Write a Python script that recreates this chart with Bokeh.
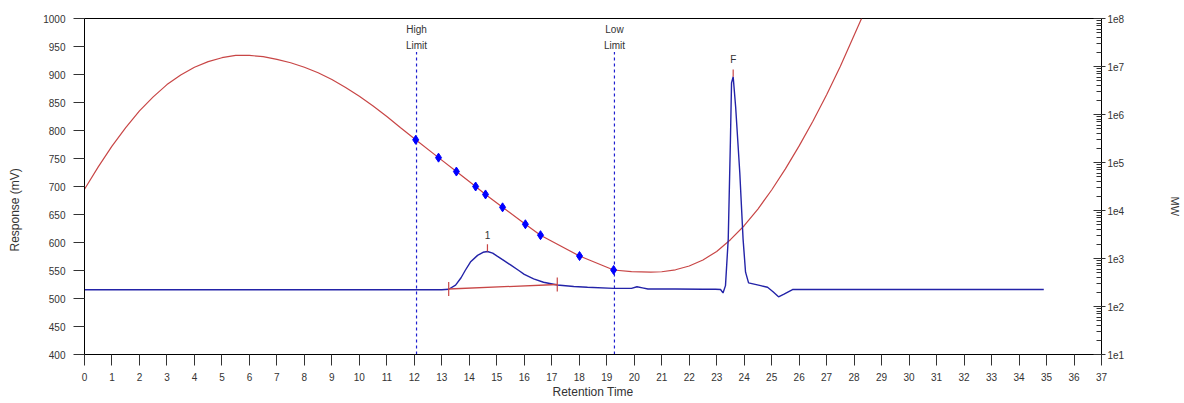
import math
from bokeh.plotting import figure
from bokeh.models import (Range1d, LogScale, LogAxis, FixedTicker, SingleIntervalTicker,
                          CustomJSTickFormatter)
from bokeh.core.properties import value
from bokeh.embed import file_html
from bokeh.resources import INLINE

# ---------------- data ----------------
# chromatogram trace (retention time in min, response in mV)
trace_t = [0.0, 12.0, 13.0, 13.25, 13.5, 13.7, 13.85, 14.04, 14.3, 14.5, 14.66, 14.85, 15.0,
           15.25, 15.5, 15.8, 16.0, 16.34, 16.7, 17.2, 17.8, 18.3, 19.25, 19.9, 20.1, 20.3,
           20.5, 21.5, 22.5, 22.96, 23.14, 23.23, 23.32, 23.42, 23.5, 23.54, 23.6, 23.69,
           23.84, 23.96, 24.05, 24.16, 24.6, 24.85, 25.05, 25.25, 25.45, 25.76, 30.0, 34.9]
trace_mv = [515.5, 515.5, 515.5, 516.5, 524, 537, 550, 565, 577, 582.5, 584, 581, 576,
            568, 560, 550, 543, 535, 529, 524, 521.5, 520, 518, 518, 521, 519,
            517, 517, 516.5, 516.5, 516, 510, 523, 606, 783, 885, 896, 842,
            725, 606, 547, 528, 523, 520, 512, 503, 508, 516, 516, 516]

# calibration curve (retention time, molecular weight)
cal_t = [0.0, 0.5, 1.0, 1.5, 2.0, 2.5, 3.0, 3.5, 4.0, 4.5, 5.0, 5.5, 6.0, 6.5, 7.0, 7.5,
         8.0, 8.5, 9.0, 9.5, 10.0, 10.5, 11.0, 11.5, 12.05, 12.88, 13.53, 14.23, 14.59,
         15.21, 16.04, 16.59, 18.01, 19.25, 19.9, 20.6, 21.0, 21.5, 22.0, 22.5, 23.0, 23.5,
         24.0, 24.5, 25.0, 25.5, 26.0, 26.5, 27.0, 27.5, 28.0, 28.27]
cal_mw = [2.765e4, 8.10e4, 2.19e5, 5.31e5, 1.19e6, 2.33e6, 4.20e6, 6.63e6, 9.66e6, 1.264e7,
          1.525e7, 1.70e7, 1.70e7, 1.609e7, 1.407e7, 1.198e7, 9.66e6, 7.39e6, 5.35e6,
          3.67e6, 2.39e6, 1.51e6, 9.09e5, 5.31e5, 2.97e5, 1.262e5, 6.48e4, 3.16e4, 2.16e4,
          1.164e4, 5.17e3, 3.06e3, 1.125e3, 576, 533, 519, 530, 582, 697, 932, 1.402e3,
          2.465e3, 4.82e3, 1.073e4, 2.674e4, 7.37e4, 2.217e5, 7.23e5, 2.573e6, 1.013e7,
          4.47e7, 1.0e8]

# calibration standards
std_t = [12.05, 12.88, 13.53, 14.23, 14.59, 15.21, 16.04, 16.59, 18.01, 19.25]
std_mw = [2.97e5, 1.262e5, 6.48e4, 3.16e4, 2.16e4, 1.164e4, 5.17e3, 3.06e3, 1.125e3, 576]

# integration limits
limit_t = [12.08, 19.28]
limit_top = 940
limit_word1 = ["High", "Low"]
limit_word2 = ["Limit", "Limit"]

# peak 1 baseline
base_t = [13.25, 17.2]
base_mv = [517, 525]

# peak apexes
apex_t = [14.66, 23.6]
apex_mv = [584, 896]
apex_name = ["1", "F"]

# axis ticks
y_ticks = list(range(400, 1001, 50))
mw_major = [1e1, 1e2, 1e3, 1e4, 1e5, 1e6, 1e7, 1e8]

# ---------------- figure ----------------
FONT = "Liberation Sans"
TXT = "#333333"
BLUE = "#2323a8"
RED = "#c84646"
NB = "\u00a0"

W, H = 1184, 401
p = figure(width=W, height=H, output_backend="svg", toolbar_location=None,
           x_range=Range1d(0, 37), y_range=Range1d(400, 1000),
           min_border_left=84, min_border_right=W - 1101, min_border_top=18,
           min_border_bottom=H - 356)
p.extra_y_ranges = {"mw": Range1d(1e1, 1e8)}
p.extra_y_scales = {"mw": LogScale()}
p.xgrid.visible = False
p.ygrid.visible = False
p.outline_line_color = "black"
p.background_fill_color = "white"
p.border_fill_color = "white"

# left axis
ya = p.yaxis[0]
ya.ticker = FixedTicker(ticks=y_ticks)
ya.major_tick_out = 11
ya.major_tick_in = 0
ya.minor_tick_out = 0
ya.minor_tick_in = 0
ya.major_label_standoff = 8
ya.axis_line_color = "black"
ya.major_tick_line_color = "#333333"
ya.major_label_text_font = FONT
ya.major_label_text_font_size = "10px"
ya.major_label_text_color = TXT
ya.axis_label = "Response (mV)" + NB * 14
ya.axis_label_standoff = 18
ya.axis_label_text_font = FONT
ya.axis_label_text_font_size = "12px"
ya.axis_label_text_font_style = "normal"
ya.axis_label_text_color = TXT

# bottom axis
xa = p.xaxis[0]
xa.ticker = SingleIntervalTicker(interval=1)
xa.major_tick_out = 11
xa.major_tick_in = 0
xa.minor_tick_out = 0
xa.minor_tick_in = 0
xa.major_label_standoff = 7
xa.axis_line_color = "black"
xa.major_tick_line_color = "#333333"
xa.major_label_text_font = FONT
xa.major_label_text_font_size = "10px"
xa.major_label_text_color = TXT
xa.axis_label = "Retention Time"
xa.axis_label_standoff = 1
xa.axis_label_text_font = FONT
xa.axis_label_text_font_size = "12px"
xa.axis_label_text_font_style = "normal"
xa.axis_label_text_color = TXT

# right log axis
mw_minor = [m * d for d in mw_major[:-1] for m in range(2, 10)]
ra = LogAxis(y_range_name="mw", ticker=FixedTicker(ticks=mw_major, minor_ticks=mw_minor))
ra.formatter = CustomJSTickFormatter(code="return '1e' + Math.round(Math.log10(tick));")
ra.major_tick_in = 8
ra.major_tick_out = 4
ra.minor_tick_in = 5
ra.minor_tick_out = 0
ra.major_label_standoff = 2
ra.axis_line_color = "black"
ra.major_tick_line_color = "#333333"
ra.minor_tick_line_color = "#333333"
ra.major_label_text_font = FONT
ra.major_label_text_font_size = "10px"
ra.major_label_text_color = TXT
ra.axis_label = NB * 13 + "MW"
ra.axis_label_standoff = 42
ra.axis_label_text_font = FONT
ra.axis_label_text_font_size = "11px"
ra.axis_label_text_font_style = "normal"
ra.axis_label_text_color = TXT
p.add_layout(ra, "right")

# limit lines
p.segment(x0=limit_t, y0=[400] * len(limit_t), x1=limit_t, y1=[limit_top] * len(limit_t),
          line_color="#1f1fd0", line_dash="3 3", line_width=1.2)
p.text(x=limit_t, y=[limit_top] * 2, text=limit_word2, text_align="center",
       text_baseline="bottom", y_offset=-1, text_font=value(FONT),
       text_font_size="10px", text_color=TXT)
p.text(x=limit_t, y=[limit_top] * 2, text=limit_word1, text_align="center",
       text_baseline="bottom", y_offset=-17, text_font=value(FONT),
       text_font_size="10px", text_color=TXT)

# calibration curve
p.line(cal_t, cal_mw, y_range_name="mw", line_color=RED, line_width=1.2)

# chromatogram
p.line(trace_t, trace_mv, line_color=BLUE, line_width=1.4)

# peak 1 baseline + ticks
p.line(base_t, base_mv, line_color=RED, line_width=1.3)
p.scatter(base_t, base_mv, marker="dash", angle=math.pi / 2, size=14,
          line_color=RED, line_width=1.2)
p.segment(x0=apex_t, y0=apex_mv, x1=apex_t, y1=[v + 13 for v in apex_mv],
          line_color=RED, line_width=1.2)
p.text(x=apex_t, y=apex_mv, text=apex_name, text_align="center", text_baseline="bottom",
       y_offset=-12, text_font=value(FONT), text_font_size="10px", text_color=TXT)

# standards
p.scatter(std_t, std_mw, y_range_name="mw", marker="diamond", size=9,
          fill_color="#0000ff", line_color="#0000ff")

open("out.html", "w").write(file_html(p, INLINE))
